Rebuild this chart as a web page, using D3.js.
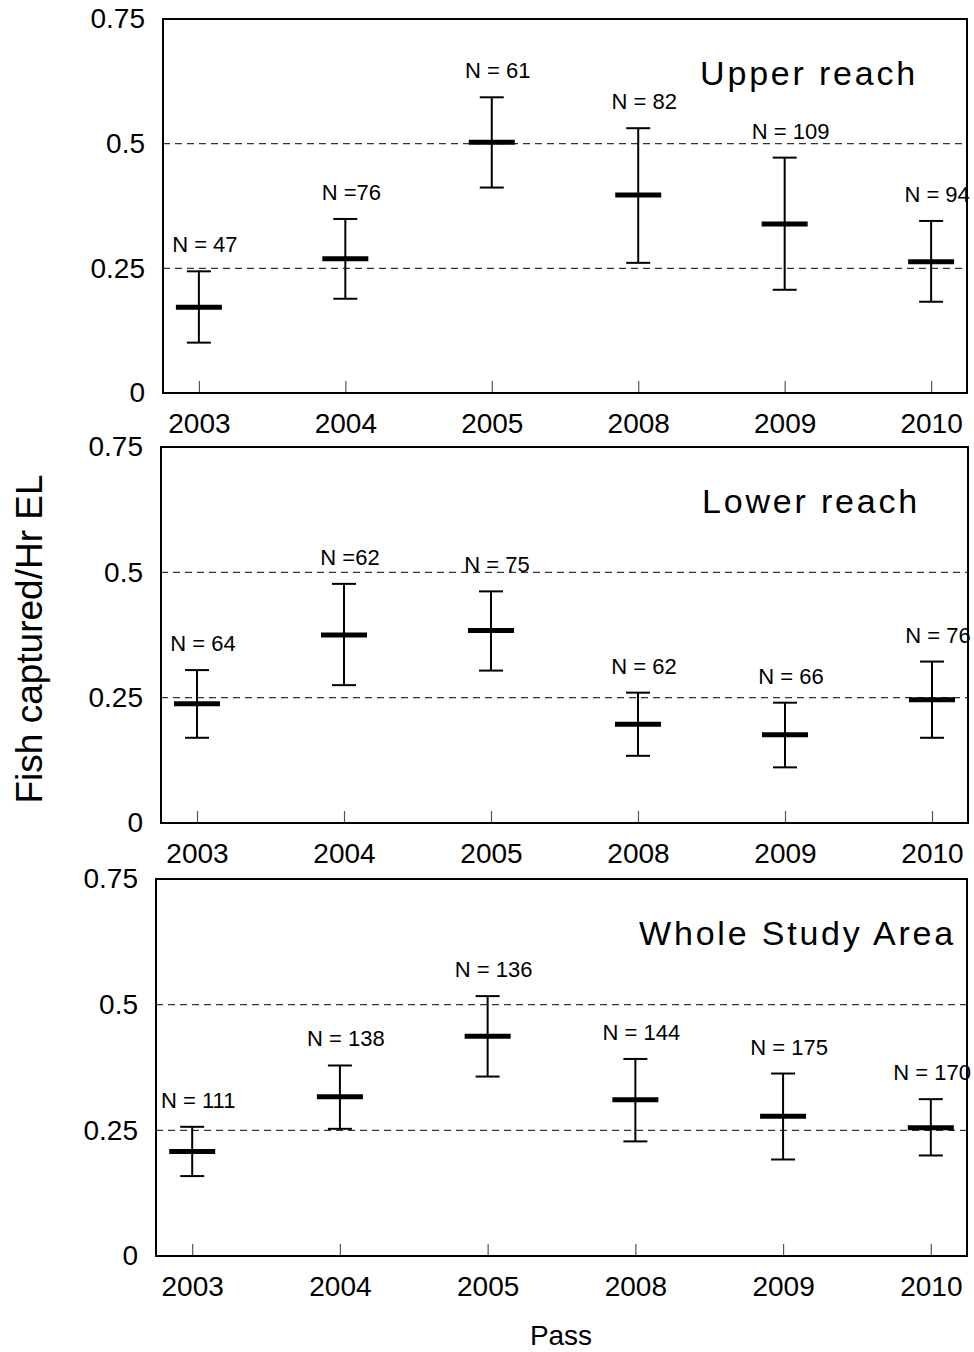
<!DOCTYPE html>
<html>
<head>
<meta charset="utf-8">
<script src="https://cdn.jsdelivr.net/npm/d3@7"></script>
<style>
  body { margin: 0; background: #fff; }
  text { font-family: 'Liberation Sans', Arial, sans-serif; fill: #000; }
</style>
</head>
<body>
<div id="chart"></div>
<script>
// categories and values
const years = ['2003', '2004', '2005', '2008', '2009', '2010']
const yTicks = [0, 0.25, 0.5, 0.75]
const refLines = [0.25, 0.5]

const upperMean = [0.172, 0.269, 0.503, 0.397, 0.339, 0.263]
const upperHigh = [0.244, 0.349, 0.593, 0.531, 0.472, 0.345]
const upperLow = [0.101, 0.189, 0.412, 0.261, 0.207, 0.183]
const upperN = ['N = 47', 'N =76', 'N = 61', 'N = 82', 'N = 109', 'N = 94']

const lowerMean = [0.238, 0.375, 0.384, 0.197, 0.176, 0.246]
const lowerHigh = [0.305, 0.477, 0.462, 0.260, 0.240, 0.322]
const lowerLow = [0.170, 0.275, 0.304, 0.134, 0.111, 0.170]
const lowerN = ['N = 64', 'N =62', 'N = 75', 'N = 62', 'N = 66', 'N = 76']

const wholeMean = [0.208, 0.317, 0.437, 0.311, 0.278, 0.255]
const wholeHigh = [0.257, 0.379, 0.517, 0.392, 0.363, 0.312]
const wholeLow = [0.159, 0.253, 0.357, 0.228, 0.192, 0.200]
const wholeN = ['N = 111', 'N = 138', 'N = 136', 'N = 144', 'N = 175', 'N = 170']

const titles = ['Upper reach', 'Lower reach', 'Whole Study Area']

// layout of the three boxes
const panels = [
  {left: 163, right: 967, top: 19, bottom: 393, titleRight: 915, mean: upperMean, high: upperHigh, low: upperLow, n: upperN},
  {left: 161, right: 968, top: 447, bottom: 823, titleRight: 917, mean: lowerMean, high: lowerHigh, low: lowerLow, n: lowerN},
  {left: 156, right: 967, top: 879, bottom: 1256, titleRight: 953, mean: wholeMean, high: wholeHigh, low: wholeLow, n: wholeN}
]

const width = 974
const height = 1352

const svg = d3.select('#chart')
  .append('svg')
  .attr('width', width)
  .attr('height', height)

panels.forEach((p, k) => {
  const x = d3.scalePoint()
    .domain(years)
    .range([p.left, p.right])
    .padding(0.245)
  const y = d3.scaleLinear()
    .domain([0, 0.75])
    .range([p.bottom, p.top])

  const g = svg.append('g').attr('class', 'panel')

  // dashed reference lines
  g.selectAll('.ref')
    .data(refLines)
    .enter()
    .append('line')
    .attr('class', 'ref')
    .attr('x1', p.left)
    .attr('x2', p.right)
    .attr('y1', d => y(d))
    .attr('y2', d => y(d))
    .style('stroke', '#333')
    .style('stroke-width', 1.2)
    .style('stroke-dasharray', '7,5')

  // x axis: ticks pointing inward, labels below
  const xAxis = d3.axisBottom(x).tickSize(-12).tickPadding(20)
  const xg = g.append('g')
    .attr('transform', 'translate(0,' + p.bottom + ')')
    .call(xAxis)
  xg.select('.domain').remove()
  xg.selectAll('.tick line').style('stroke', '#555').style('stroke-width', 1.2)
  xg.selectAll('.tick text')
    .style('font-size', '28px')
    .style('font-family', "'Liberation Sans', Arial, sans-serif")
    .attr('fill', '#000')

  // y axis labels only
  const yAxis = d3.axisLeft(y).tickValues(yTicks).tickSize(0).tickPadding(18)
    .tickFormat(d => String(d))
  const yg = g.append('g')
    .attr('transform', 'translate(' + p.left + ',0)')
    .call(yAxis)
  yg.select('.domain').remove()
  yg.selectAll('.tick text')
    .style('font-size', '28px')
    .style('font-family', "'Liberation Sans', Arial, sans-serif")
    .attr('fill', '#000')

  // frame
  g.append('rect')
    .attr('x', p.left)
    .attr('y', p.top)
    .attr('width', p.right - p.left)
    .attr('height', p.bottom - p.top)
    .style('fill', 'none')
    .style('stroke', '#000')
    .style('stroke-width', 2)

  const rows = years.map((yr, i) => ({yr: yr, mean: p.mean[i], high: p.high[i], low: p.low[i], n: p.n[i]}))

  const bars = g.selectAll('.bar')
    .data(rows)
    .enter()
    .append('g')
    .attr('class', 'bar')

  bars.append('line')
    .attr('x1', d => x(d.yr))
    .attr('x2', d => x(d.yr))
    .attr('y1', d => y(d.high))
    .attr('y2', d => y(d.low))
    .style('stroke', '#000')
    .style('stroke-width', 2)

  bars.selectAll('.cap')
    .data(d => [{yr: d.yr, v: d.high}, {yr: d.yr, v: d.low}])
    .enter()
    .append('line')
    .attr('class', 'cap')
    .attr('x1', d => x(d.yr) - 12)
    .attr('x2', d => x(d.yr) + 12)
    .attr('y1', d => y(d.v))
    .attr('y2', d => y(d.v))
    .style('stroke', '#000')
    .style('stroke-width', 2)

  bars.append('line')
    .attr('x1', d => x(d.yr) - 23)
    .attr('x2', d => x(d.yr) + 23)
    .attr('y1', d => y(d.mean))
    .attr('y2', d => y(d.mean))
    .style('stroke', '#000')
    .style('stroke-width', 5)

  // N labels, kept inside the picture on the right
  bars.append('text')
    .attr('y', d => y(d.high) - 19)
    .attr('text-anchor', 'middle')
    .style('font-size', '22px')
    .text(d => d.n)
    .attr('x', function (d) {
      const half = this.getComputedTextLength() / 2
      return Math.min(x(d.yr) + 6, width - 3 - half)
    })

  g.append('text')
    .attr('x', p.titleRight + 3)
    .attr('y', p.top + 66)
    .attr('text-anchor', 'end')
    .style('font-size', '34px')
    .style('letter-spacing', '2.8px')
    .text(titles[k])
})

svg.append('text')
  .attr('transform', 'translate(42,639) rotate(-90)')
  .attr('text-anchor', 'middle')
  .style('font-size', '37px')
  .text('Fish captured/Hr EL')

svg.append('text')
  .attr('x', 561)
  .attr('y', 1345)
  .attr('text-anchor', 'middle')
  .style('font-size', '28px')
  .text('Pass')
</script>
</body>
</html>
